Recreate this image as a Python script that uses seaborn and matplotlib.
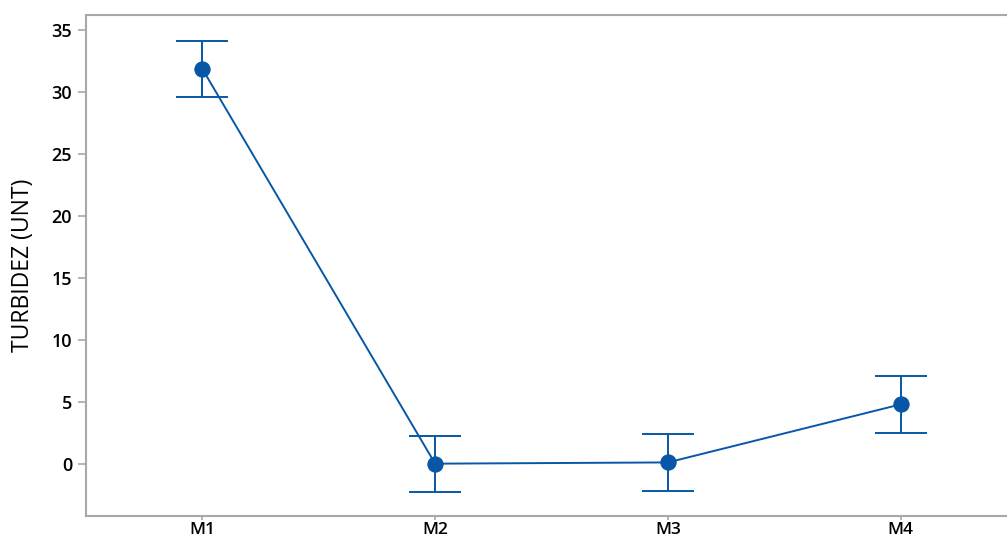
import matplotlib
matplotlib.use("Agg")
import matplotlib.pyplot as plt
import seaborn as sns
import pandas as pd

categories = ["M1", "M2", "M3", "M4"]
means = [31.85, 0.02, 0.12, 4.80]
lower = [29.55, -2.25, -2.15, 2.52]
upper = [34.10, 2.29, 2.39, 7.06]
yticks = [0, 5, 10, 15, 20, 25, 30, 35]
ylabel = "TURBIDEZ (UNT)"

sns.set_theme(style="white")
plt.rcParams['font.family'] = ['Open Sans', 'DejaVu Sans']

color = "#0857A6"
fig = plt.figure(figsize=(10.07, 5.40), dpi=100)
ax = fig.add_axes([86/1007, 24/540, (1017-86)/1007, (516-15)/540])

df = pd.DataFrame({"cat": categories, "mean": means, "lo": lower, "hi": upper})
sns.lineplot(data=df, x="cat", y="mean", ax=ax, color=color, lw=1.4,
             marker="o", markersize=11, markeredgecolor=color, sort=False)
xs = range(len(categories))
yerr = [[m - l for m, l in zip(means, lower)], [h - m for m, h in zip(means, upper)]]
ax.errorbar(list(xs), means, yerr=yerr, fmt="none", ecolor=color, elinewidth=1.4,
            capsize=19, capthick=1.4)

ax.set_xlim(-0.5, 3.5)
ax.set_ylim(-4.2, 36.2)
ax.set_yticks(yticks)
ax.set_xticks(list(xs))
ax.set_xticklabels(categories)
ax.set_xlabel("")
ax.set_ylabel(ylabel, fontsize=16.5, labelpad=12, color="black")
for s in ax.spines.values():
    s.set_color("#A8A8A8")
    s.set_linewidth(1.5)
ax.tick_params(axis="y", which="major", direction="out", length=6, width=1.2,
               color="#A8A8A8", labelsize=13, pad=4, left=True, labelcolor="black")
ax.tick_params(axis="x", which="major", direction="out", length=3, width=1.2,
               color="#A8A8A8", labelsize=12.5, pad=1, bottom=True, labelcolor="black")
for lbl in ax.get_yticklabels() + ax.get_xticklabels():
    lbl.set_fontweight("semibold")
ax.grid(False)
fig.savefig("out.png", dpi=100)
